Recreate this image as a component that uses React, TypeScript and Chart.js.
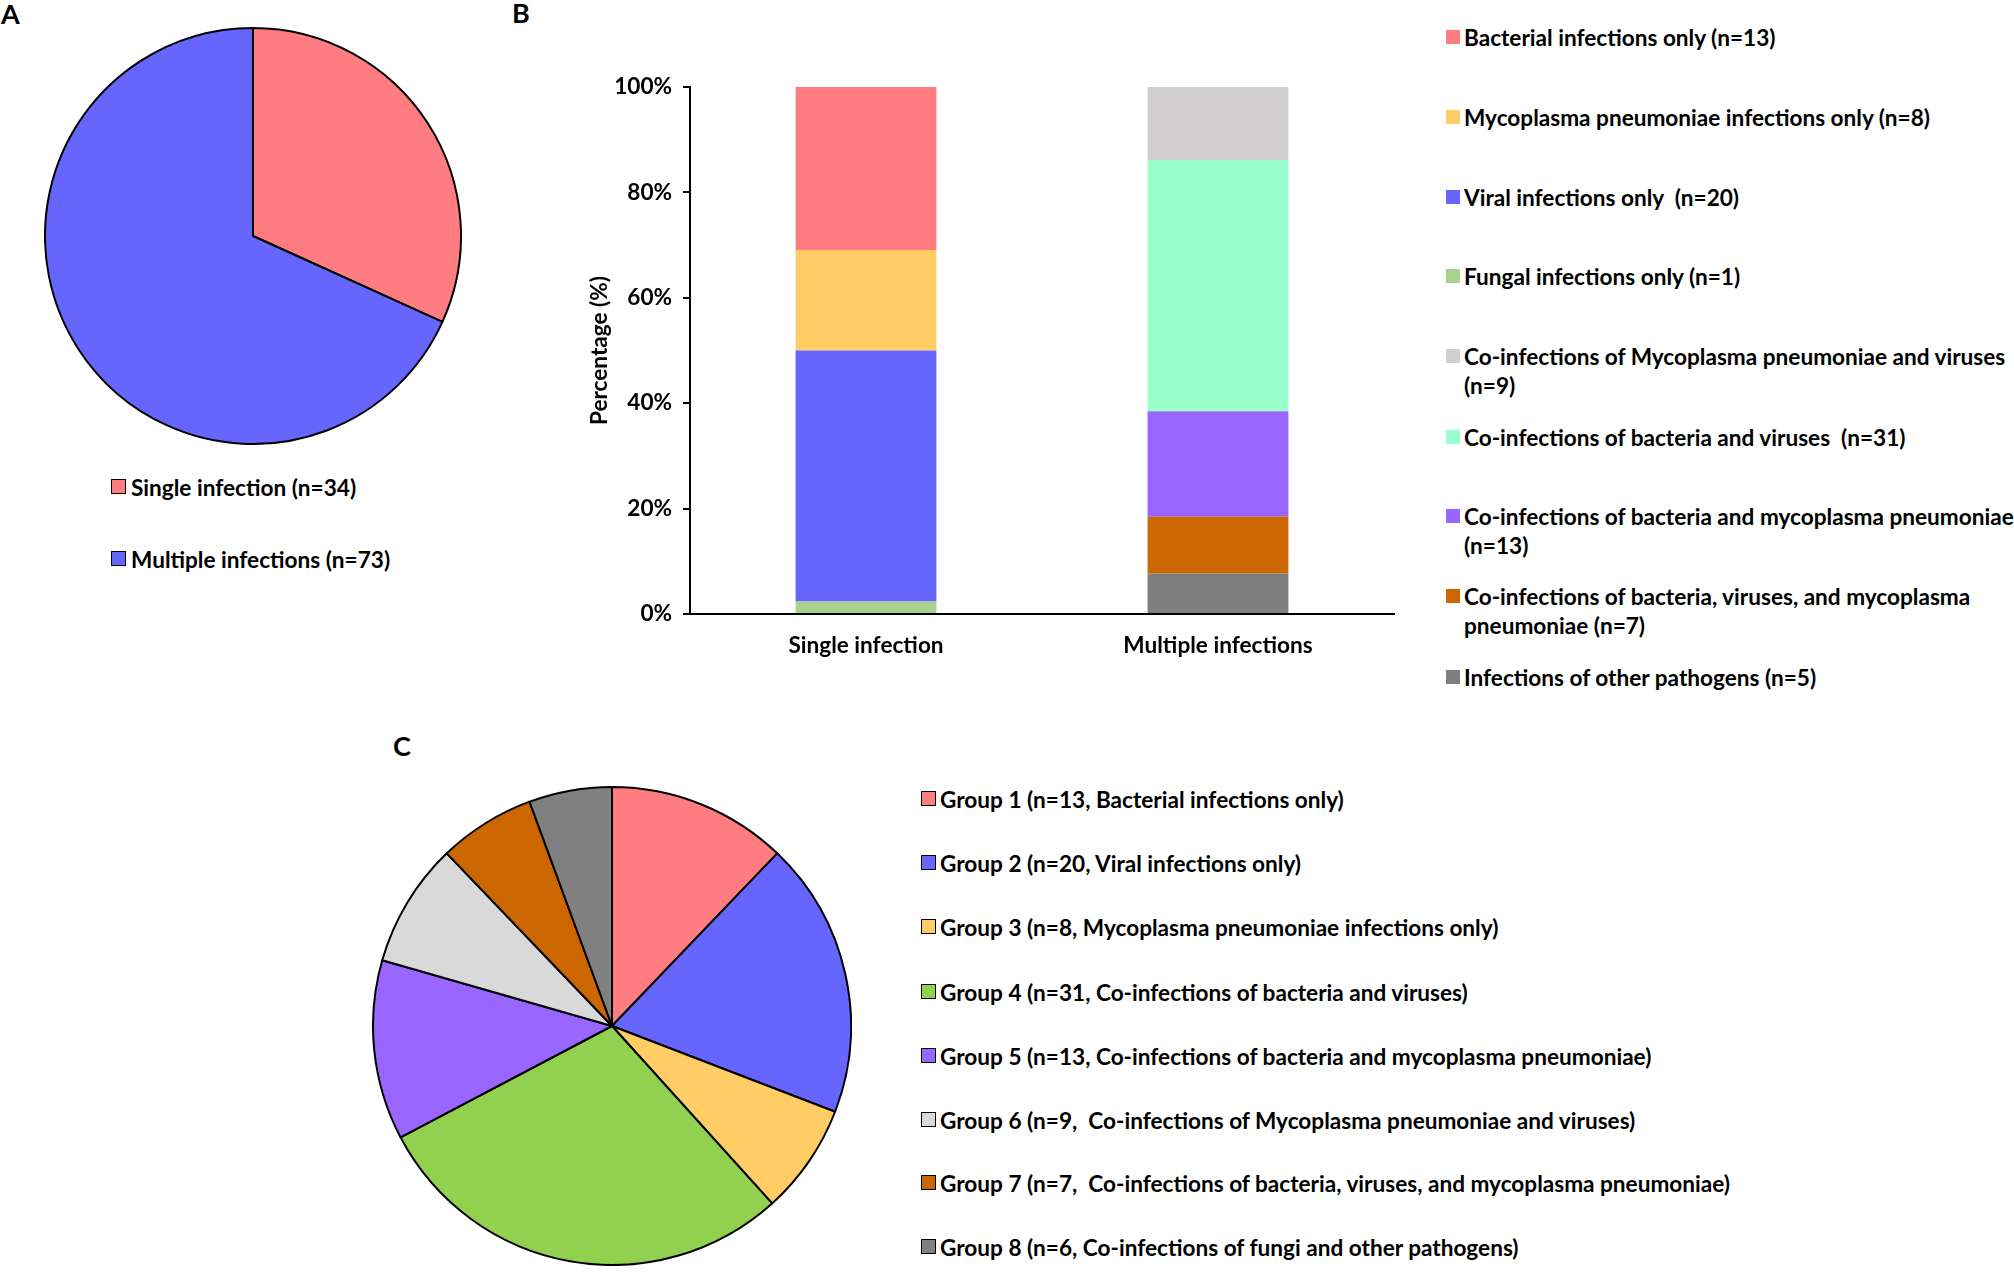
import React, { useEffect, useRef } from "react";
import { Chart, registerables } from "chart.js";

Chart.register(...registerables);

const FONT = "Lato";
const FS = 22.6;

// ---------- Panel A data ----------
const pieALabels = ["Single infection (n=34)", "Multiple infections (n=73)"];
const pieAValues = [34, 73];
const pieAColors = ["#FF7C80", "#6666FF"];

// ---------- Panel B data ----------
const barCategories = ["Single infection", "Multiple infections"];
// stacked bottom -> top
const singleSeriesLabels = [
  "Fungal infections only (n=1)",
  "Viral infections only  (n=20)",
  "Mycoplasma pneumoniae infections only (n=8)",
  "Bacterial infections only (n=13)",
];
const singleSeriesCounts = [1, 20, 8, 13];
const singleSeriesColors = ["#A9D18E", "#6666FF", "#FFCC66", "#FF7C80"];

const multipleSeriesLabels = [
  "Infections of other pathogens (n=5)",
  "Co-infections of bacteria, viruses, and mycoplasma\npneumoniae (n=7)",
  "Co-infections of bacteria and mycoplasma pneumoniae\n(n=13)",
  "Co-infections of bacteria and viruses  (n=31)",
  "Co-infections of Mycoplasma pneumoniae and viruses\n(n=9)",
];
const multipleSeriesCounts = [5, 7, 13, 31, 9];
const multipleSeriesColors = ["#7F7F7F", "#CC6600", "#9966FF", "#99FFCC", "#D0CECE"];

const yTickValues = [0, 20, 40, 60, 80, 100];

// ---------- Panel C data ----------
const pieCLabels = [
  "Group 1 (n=13, Bacterial infections only)",
  "Group 2 (n=20, Viral infections only)",
  "Group 3 (n=8, Mycoplasma pneumoniae infections only)",
  "Group 4 (n=31, Co-infections of bacteria and viruses)",
  "Group 5 (n=13, Co-infections of bacteria and mycoplasma pneumoniae)",
  "Group 6 (n=9,  Co-infections of Mycoplasma pneumoniae and viruses)",
  "Group 7 (n=7,  Co-infections of bacteria, viruses, and mycoplasma pneumoniae)",
  "Group 8 (n=6, Co-infections of fungi and other pathogens)",
];
const pieCValues = [13, 20, 8, 31, 13, 9, 7, 6];
const pieCColors = ["#FF7C80", "#6666FF", "#FFCC66", "#92D050", "#9966FF", "#D9D9D9", "#CC6600", "#808080"];

// ---------- layout (positions only) ----------
const legendAY = [487, 559];
const legendBY = [37, 117, 197, 276, 356, 437, 516, 596, 677];
const legendCY = [799, 863, 927, 992, 1056, 1120, 1183, 1247];

const sum = (a: number[]) => a.reduce((s, v) => s + v, 0);

function pieConfig(labels: string[], values: number[], colors: string[]) {
  return {
    type: "pie" as const,
    data: {
      labels,
      datasets: [
        {
          data: values,
          backgroundColor: colors,
          borderColor: "#000000",
          borderWidth: 2,
        },
      ],
    },
    options: {
      animation: false as const,
      responsive: false,
      layout: { padding: 0 },
      plugins: { legend: { display: false }, tooltip: { enabled: false } },
    },
  };
}

const textStyle: React.CSSProperties = {
  position: "absolute",
  fontFamily: FONT,
  fontWeight: 700,
  fontSize: FS,
  lineHeight: "29px",
  whiteSpace: "pre",
  color: "#000",
};

export default function App() {
  const pieARef = useRef<HTMLCanvasElement>(null);
  const barRef = useRef<HTMLCanvasElement>(null);
  const pieCRef = useRef<HTMLCanvasElement>(null);

  useEffect(() => {
    document.body.style.margin = "0";
    Chart.defaults.font.family = FONT;
    Chart.defaults.font.size = FS;
    Chart.defaults.font.weight = "bold";
    Chart.defaults.color = "#000";

    const charts: Chart[] = [];
    charts.push(new Chart(pieARef.current!, pieConfig(pieALabels, pieAValues, pieAColors) as any));
    charts.push(new Chart(pieCRef.current!, pieConfig(pieCLabels, pieCValues, pieCColors) as any));

    const singleTotal = sum(singleSeriesCounts);
    const multipleTotal = sum(multipleSeriesCounts);
    const datasets: any[] = [];
    singleSeriesLabels.forEach((l, i) => {
      datasets.push({
        label: l,
        data: [(singleSeriesCounts[i] / singleTotal) * 100, null],
        backgroundColor: singleSeriesColors[i],
        borderWidth: 0,
        barPercentage: 0.5,
        categoryPercentage: 0.8,
      });
    });
    multipleSeriesLabels.forEach((l, i) => {
      datasets.push({
        label: l,
        data: [null, (multipleSeriesCounts[i] / multipleTotal) * 100],
        backgroundColor: multipleSeriesColors[i],
        borderWidth: 0,
        barPercentage: 0.5,
        categoryPercentage: 0.8,
      });
    });

    charts.push(
      new Chart(barRef.current!, {
        type: "bar",
        data: { labels: barCategories, datasets },
        options: {
          animation: false,
          responsive: false,
          layout: { padding: { top: 37, right: 46, left: 0, bottom: 0 } },
          plugins: { legend: { display: false }, tooltip: { enabled: false } },
          scales: {
            x: {
              stacked: true,
              grid: { display: false, drawTicks: false },
              border: { display: true, color: "#000", width: 2 },
              ticks: { color: "#000", font: { size: FS, weight: "bold" }, padding: 18 },
              afterFit: (s: any) => {
                s.height = 96;
              },
            },
            y: {
              stacked: true,
              min: 0,
              max: 100,
              afterBuildTicks: (s: any) => {
                s.ticks = yTickValues.map((v) => ({ value: v }));
              },
              ticks: {
                color: "#000",
                padding: 11,
                font: { size: FS, weight: "bold" },
                callback: (v: any) => v + "%",
              },
              grid: { drawOnChartArea: false, drawTicks: true, tickLength: 7, color: "#000", lineWidth: 2 },
              border: { color: "#000", width: 2 },
              title: {
                display: true,
                text: "Percentage (%)",
                color: "#000",
                font: { size: FS, weight: "bold" },
                padding: { top: 26, bottom: 0 },
              },
              afterFit: (s: any) => {
                s.width = 130;
              },
            },
          },
        },
      } as any)
    );

    return () => charts.forEach((c) => c.destroy());
  }, []);

  // legend B order (top to bottom)
  const legendB = [
    ...singleSeriesLabels.map((l, i) => ({ l, c: singleSeriesColors[i] })).reverse(),
    ...multipleSeriesLabels.map((l, i) => ({ l, c: multipleSeriesColors[i] })).reverse(),
  ];

  const pieAR = 209;
  const pieCR = 240;

  return (
    <div
      style={{
        position: "absolute",
        left: 0,
        top: 0,
        width: 2014,
        height: 1287,
        background: "#fff",
        overflow: "hidden",
        fontFamily: FONT,
      }}
    >
      {/* panel letters */}
      <div style={{ ...textStyle, fontSize: 27, left: 1, top: 13 - 14.5 }}>A</div>
      <div style={{ ...textStyle, fontSize: 27, left: 512, top: 12 - 14.5 }}>B</div>
      <div style={{ ...textStyle, fontSize: 27, left: 393, top: 745 - 14.5 }}>C</div>

      {/* Panel A */}
      <canvas
        ref={pieARef}
        width={pieAR * 2}
        height={pieAR * 2}
        style={{ position: "absolute", left: 253 - pieAR, top: 236 - pieAR, width: pieAR * 2, height: pieAR * 2 }}
      />
      {pieALabels.map((l, i) => (
        <React.Fragment key={l}>
          <div
            style={{
              position: "absolute",
              left: 111,
              top: legendAY[i] - 8,
              width: 13,
              height: 13,
              background: pieAColors[i],
              border: "1.5px solid #000",
            }}
          />
          <div style={{ ...textStyle, left: 131, top: legendAY[i] - 14.5 }}>{l}</div>
        </React.Fragment>
      ))}

      {/* Panel B */}
      <canvas
        ref={barRef}
        width={880}
        height={660}
        style={{ position: "absolute", left: 560, top: 50, width: 880, height: 660 }}
      />
      {legendB.map((it, i) => (
        <React.Fragment key={it.l}>
          <div
            style={{
              position: "absolute",
              left: 1446,
              top: legendBY[i] - 7,
              width: 14,
              height: 14,
              background: it.c,
            }}
          />
          <div style={{ ...textStyle, left: 1464, top: legendBY[i] - 14.5 }}>{it.l}</div>
        </React.Fragment>
      ))}

      {/* Panel C */}
      <canvas
        ref={pieCRef}
        width={pieCR * 2}
        height={pieCR * 2}
        style={{ position: "absolute", left: 612 - pieCR, top: 1026 - pieCR, width: pieCR * 2, height: pieCR * 2 }}
      />
      {pieCLabels.map((l, i) => (
        <React.Fragment key={l}>
          <div
            style={{
              position: "absolute",
              left: 921,
              top: legendCY[i] - 8,
              width: 13,
              height: 13,
              background: pieCColors[i],
              border: "1.5px solid #000",
            }}
          />
          <div style={{ ...textStyle, left: 940, top: legendCY[i] - 14.5 }}>{l}</div>
        </React.Fragment>
      ))}
    </div>
  );
}
